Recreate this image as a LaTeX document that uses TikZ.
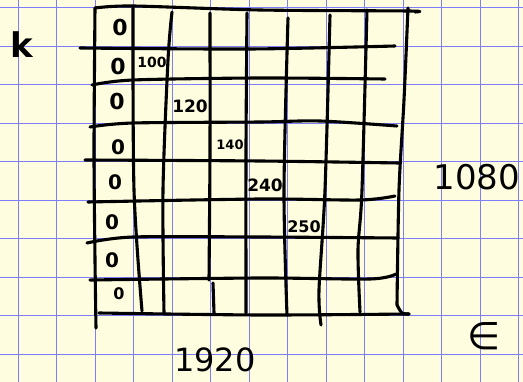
\documentclass[tikz,border=0pt]{standalone}
\usepackage{fontspec}
\setmainfont{DejaVu Sans}
\definecolor{paper}{RGB}{255,253,224}
\definecolor{rulecol}{RGB}{125,125,250}
\begin{document}
\begin{tikzpicture}[x=1pt,y=-1pt,
  ink/.style={line width=3.1pt, line cap=round, line join=round},
  rulestyle/.style={rulecol, line width=1.1pt},
  lbl/.style={inner sep=0pt, text=black},
  fz/.style={lbl, font=\fontsize{#1}{#1}\selectfont},
  fb/.style={lbl, font=\bfseries\fontsize{#1}{#1}\selectfont}]
\fill[paper] (0,0) rectangle (523,382);
\useasboundingbox (0,0) rectangle (523,382);
% squared paper
\foreach \i in {0,...,13} \draw[rulestyle] (18.3+38.5*\i,0) -- (18.3+38.5*\i,382);
\foreach \j in {0,...,9} \draw[rulestyle] (0,7.7+38.5*\j) -- (523,7.7+38.5*\j);
% outer frame
\draw[ink] plot[smooth] coordinates {(95,8) (133,6) (260,10) (408,11) (415,12)};
\draw[ink] plot[smooth] coordinates {(95,8) (94,150) (95,260) (96,328)};
\draw[ink] plot[smooth] coordinates {(408,8) (404,100) (399,190) (397,305)};
\draw[ink] plot[smooth] coordinates {(397,305) (402,313) (409,314)};
\draw[ink] plot[smooth] coordinates {(99,313) (260,315) (409,314)};
% columns
\draw[ink] plot[smooth] coordinates {(133,8) (134,190) (142,311)};
\draw[ink] plot[smooth] coordinates {(172,12) (168,60) (163,190) (164,313)};
\draw[ink] plot[smooth] coordinates {(210,13) (210,150) (209,280)};
\draw[ink] (213,283) -- (214,313);
\draw[ink] plot[smooth] coordinates {(247,13) (246,150) (246,313)};
\draw[ink] plot[smooth] coordinates {(288,18) (284,190) (287,315)};
\draw[ink] plot[smooth] coordinates {(330,15) (325,190) (319,290) (321,325)};
\draw[ink] plot[smooth] coordinates {(367,10) (362,190) (358,250) (360,312)};
% rows
\draw[ink] plot[smooth] coordinates {(80,48) (250,49) (395,46)};
\draw[ink] plot[smooth] coordinates {(92,85) (133,80) (260,78) (385,79)};
\draw[ink] plot[smooth] coordinates {(90,127) (133,123) (260,122) (320,121) (397,126)};
\draw[ink] plot[smooth] coordinates {(85,160) (260,161) (399,163)};
\draw[ink] plot[smooth] coordinates {(88,202) (260,199) (360,200) (395,196)};
\draw[ink] plot[smooth] coordinates {(87,243) (133,237) (260,237) (398,238)};
\draw[ink] plot[smooth] coordinates {(90,280) (260,278) (370,279) (396,274)};
% zeros in first column
\node[fb=22] (z1) at (120,27) {0};
\node[fb=22] (z2) at (118,66) {0};
\node[fb=22] (z3) at (117,101) {0};
\node[fb=20] (z4) at (118,147) {0};
\node[fb=20] (z5) at (115,182) {0};
\node[fb=20] (z6) at (112,222) {0};
\node[fb=20] (z7) at (112,260) {0};
\node[fb=16] (z8) at (119,294) {0};
% diagonal values
\node[fb=14] (v100) at (152,62) {100};
\node[fb=17] (v120) at (190,106) {120};
\node[fb=13] (v140) at (230,145) {140};
\node[fb=17] (v240) at (265,185) {240};
\node[fb=16] (v250) at (304,227) {250};
% dimensions and marks
\node[fz=34] (h) at (477,177) {1080};
\node[fz=32] (w) at (215,360) {1920};
\node[fz=38] (e) at (484,336) {∈};
\node[fb=34] (k) at (22,45) {k};
\end{tikzpicture}
\end{document}
